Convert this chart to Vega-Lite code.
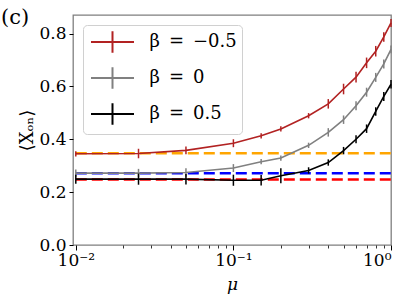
{
  "$schema": "https://vega.github.io/schema/vega-lite/v6.json",
  "autosize": {"type": "none"},
  "width": 318,
  "height": 230,
  "padding": {"left": 73, "top": 15, "right": 16, "bottom": 50},
  "title": {"text": "(c)", "anchor": "start", "frame": "group", "orient": "top", "font": "DejaVu Serif", "fontSize": 21, "fontWeight": "normal", "color": "black", "baseline": "alphabetic", "offset": 0, "dx": -72, "dy": 30},
  "config": {
    "font": "DejaVu Serif",
    "view": {"stroke": "#7f7f7f", "strokeWidth": 1.3},
    "axis": {"grid": false, "domain": false, "tickColor": "black", "labelColor": "black", "titleColor": "black", "labelFont": "DejaVu Serif", "titleFont": "DejaVu Serif", "labelFontSize": 17, "titleFontSize": 17, "titleFontWeight": "normal"},
    "legend": {"labelFont": "DejaVu Serif"}
  },
  "datasets": {
    "curves": [
      {"mu": 0.01, "beta": -0.5, "v": 0.345, "lo": 0.335, "hi": 0.355},
      {"mu": 0.025, "beta": -0.5, "v": 0.346, "lo": 0.328, "hi": 0.364},
      {"mu": 0.05, "beta": -0.5, "v": 0.358, "lo": 0.343, "hi": 0.373},
      {"mu": 0.1, "beta": -0.5, "v": 0.385, "lo": 0.37, "hi": 0.4},
      {"mu": 0.15, "beta": -0.5, "v": 0.413, "lo": 0.403, "hi": 0.423},
      {"mu": 0.2, "beta": -0.5, "v": 0.439, "lo": 0.429, "hi": 0.449},
      {"mu": 0.3, "beta": -0.5, "v": 0.489, "lo": 0.479, "hi": 0.499},
      {"mu": 0.4, "beta": -0.5, "v": 0.534, "lo": 0.516, "hi": 0.552},
      {"mu": 0.5, "beta": -0.5, "v": 0.59, "lo": 0.57, "hi": 0.61},
      {"mu": 0.6, "beta": -0.5, "v": 0.635, "lo": 0.615, "hi": 0.655},
      {"mu": 0.7, "beta": -0.5, "v": 0.689, "lo": 0.669, "hi": 0.709},
      {"mu": 0.8, "beta": -0.5, "v": 0.733, "lo": 0.713, "hi": 0.753},
      {"mu": 0.9, "beta": -0.5, "v": 0.787, "lo": 0.769, "hi": 0.805},
      {"mu": 1.0, "beta": -0.5, "v": 0.84, "lo": 0.825, "hi": 0.855},
      {"mu": 0.01, "beta": 0, "v": 0.272, "lo": 0.258, "hi": 0.286},
      {"mu": 0.025, "beta": 0, "v": 0.272, "lo": 0.256, "hi": 0.288},
      {"mu": 0.05, "beta": 0, "v": 0.274, "lo": 0.258, "hi": 0.29},
      {"mu": 0.1, "beta": 0, "v": 0.291, "lo": 0.276, "hi": 0.306},
      {"mu": 0.15, "beta": 0, "v": 0.315, "lo": 0.305, "hi": 0.325},
      {"mu": 0.2, "beta": 0, "v": 0.329, "lo": 0.319, "hi": 0.339},
      {"mu": 0.3, "beta": 0, "v": 0.377, "lo": 0.367, "hi": 0.387},
      {"mu": 0.4, "beta": 0, "v": 0.426, "lo": 0.41, "hi": 0.442},
      {"mu": 0.5, "beta": 0, "v": 0.474, "lo": 0.458, "hi": 0.49},
      {"mu": 0.6, "beta": 0, "v": 0.527, "lo": 0.51, "hi": 0.544},
      {"mu": 0.7, "beta": 0, "v": 0.578, "lo": 0.561, "hi": 0.595},
      {"mu": 0.8, "beta": 0, "v": 0.634, "lo": 0.617, "hi": 0.651},
      {"mu": 0.9, "beta": 0, "v": 0.685, "lo": 0.668, "hi": 0.702},
      {"mu": 1.0, "beta": 0, "v": 0.74, "lo": 0.725, "hi": 0.755},
      {"mu": 0.01, "beta": 0.5, "v": 0.249, "lo": 0.232, "hi": 0.266},
      {"mu": 0.025, "beta": 0.5, "v": 0.249, "lo": 0.228, "hi": 0.27},
      {"mu": 0.05, "beta": 0.5, "v": 0.249, "lo": 0.229, "hi": 0.269},
      {"mu": 0.1, "beta": 0.5, "v": 0.245, "lo": 0.224, "hi": 0.266},
      {"mu": 0.15, "beta": 0.5, "v": 0.245, "lo": 0.225, "hi": 0.265},
      {"mu": 0.2, "beta": 0.5, "v": 0.262, "lo": 0.234, "hi": 0.29},
      {"mu": 0.3, "beta": 0.5, "v": 0.282, "lo": 0.27, "hi": 0.294},
      {"mu": 0.4, "beta": 0.5, "v": 0.312, "lo": 0.3, "hi": 0.324},
      {"mu": 0.5, "beta": 0.5, "v": 0.357, "lo": 0.343, "hi": 0.371},
      {"mu": 0.6, "beta": 0.5, "v": 0.4, "lo": 0.385, "hi": 0.415},
      {"mu": 0.7, "beta": 0.5, "v": 0.44, "lo": 0.424, "hi": 0.456},
      {"mu": 0.8, "beta": 0.5, "v": 0.505, "lo": 0.489, "hi": 0.521},
      {"mu": 0.9, "beta": 0.5, "v": 0.562, "lo": 0.545, "hi": 0.579},
      {"mu": 1.0, "beta": 0.5, "v": 0.608, "lo": 0.592, "hi": 0.624}
    ],
    "dashes": [
      {"level": 0.347, "c": "#ffa500"},
      {"level": 0.271, "c": "#0000ff"},
      {"level": 0.248, "c": "#ff0000"}
    ]
  },
  "layer": [
    {
      "data": {"name": "dashes"},
      "mark": {"type": "rule", "strokeDash": [11, 5], "strokeWidth": 2.5},
      "encoding": {
        "x": {"datum": 0.01, "type": "quantitative", "scale": {"type": "log", "domain": [0.0096, 1], "nice": false},
              "axis": {"orient": "bottom", "values": [0.02, 0.03, 0.04, 0.05, 0.06, 0.07, 0.08, 0.09, 0.2, 0.3, 0.4, 0.5, 0.6, 0.7, 0.8, 0.9], "labels": false, "tickSize": 3, "tickWidth": 0.8, "title": null}},
        "x2": {"datum": 1},
        "y": {"field": "level", "type": "quantitative", "scale": {"domain": [0, 0.87], "nice": false, "zero": false},
              "axis": {"values": [0, 0.2, 0.4, 0.6, 0.8], "format": ".1f", "tickSize": 4, "tickWidth": 1, "labelPadding": 3, "title": "⟨Xₒₙ⟩", "titlePadding": 2, "titleFontSize": 18}},
        "color": {"field": "c", "type": "nominal", "scale": null, "legend": null}
      }
    },
    {
      "data": {"name": "curves"},
      "mark": {"type": "line", "strokeWidth": 1.6},
      "encoding": {
        "x": {"field": "mu", "type": "quantitative",
              "axis": {"orient": "bottom", "values": [0.01, 0.1, 1], "tickSize": 5, "tickWidth": 1, "labelPadding": 2, "labelExpr": "datum.value < 0.05 ? '10⁻²' : datum.value < 0.5 ? '10⁻¹' : '10⁰'", "title": "μ", "titleFontStyle": "italic", "titlePadding": 8}},
        "y": {"field": "v", "type": "quantitative"},
        "color": {"field": "beta", "type": "nominal",
                  "scale": {"domain": [-0.5, 0, 0.5], "range": ["#b22222", "#808080", "#000000"]},
                  "legend": {"orient": "top-left", "offset": 10, "title": null, "symbolType": "M-2,0H2M0,-1V1", "symbolSize": 462, "symbolStrokeWidth": 2, "symbolOffset": 12.5, "labelExpr": "'β\u2002=\u2002' + replace(datum.label, '-', '−')", "labelFont": "DejaVu Serif", "labelFontSize": 18, "labelColor": "black", "labelOffset": 25, "rowPadding": 6, "padding": 5, "strokeColor": "#d0d0d0", "fillColor": "rgba(255,255,255,0.8)", "cornerRadius": 4}}
      }
    },
    {
      "data": {"name": "curves"},
      "mark": {"type": "rule", "strokeWidth": 1.5},
      "encoding": {
        "x": {"field": "mu", "type": "quantitative", "axis": null},
        "y": {"field": "lo", "type": "quantitative"},
        "y2": {"field": "hi"},
        "color": {"field": "beta", "type": "nominal", "legend": null,
                  "scale": {"domain": [-0.5, 0, 0.5], "range": ["#b22222", "#808080", "#000000"]}}
      }
    }
  ],
  "resolve": {"axis": {"x": "independent"}, "scale": {"color": "independent"}}
}
